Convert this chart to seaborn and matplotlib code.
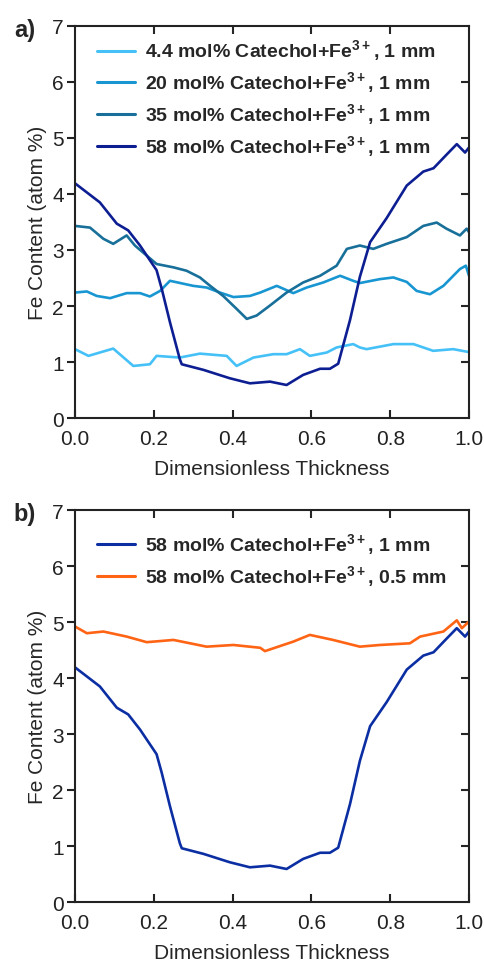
import matplotlib
matplotlib.use("Agg")
import matplotlib.pyplot as plt
import numpy as np
import pandas as pd
import seaborn as sns

# Fe content profiles (x = dimensionless thickness, y = atom %)
x_4p4 = [0.0, 0.034, 0.097, 0.148, 0.19, 0.207, 0.266, 0.317, 0.385, 0.41, 0.453,
         0.503, 0.537, 0.571, 0.596, 0.639, 0.664, 0.706, 0.723, 0.74, 0.808,
         0.859, 0.909, 0.96, 0.998]
y_4p4 = [1.23, 1.11, 1.24, 0.93, 0.96, 1.11, 1.08, 1.15, 1.11, 0.93, 1.08,
         1.14, 1.14, 1.23, 1.11, 1.17, 1.26, 1.32, 1.26, 1.23, 1.32,
         1.32, 1.20, 1.23, 1.18]

x_20 = [0.0, 0.03, 0.055, 0.089, 0.131, 0.165, 0.19, 0.216, 0.241, 0.30, 0.334,
        0.368, 0.402, 0.444, 0.47, 0.512, 0.554, 0.588, 0.63, 0.673, 0.706,
        0.723, 0.774, 0.808, 0.842, 0.867, 0.901, 0.935, 0.977, 0.992, 1.0]
y_20 = [2.24, 2.26, 2.18, 2.14, 2.23, 2.23, 2.17, 2.27, 2.45, 2.36, 2.33,
        2.24, 2.16, 2.18, 2.24, 2.36, 2.23, 2.33, 2.42, 2.54, 2.45,
        2.41, 2.48, 2.51, 2.43, 2.27, 2.21, 2.36, 2.66, 2.72, 2.54]

x_35 = [0.0, 0.038, 0.072, 0.097, 0.131, 0.152, 0.182, 0.207, 0.25, 0.283, 0.317,
        0.343, 0.376, 0.41, 0.436, 0.461, 0.495, 0.537, 0.579, 0.622, 0.664,
        0.69, 0.723, 0.757, 0.791, 0.842, 0.884, 0.918, 0.943, 0.977, 0.994, 1.0]
y_35 = [3.43, 3.40, 3.20, 3.11, 3.26, 3.08, 2.90, 2.75, 2.69, 2.63, 2.51,
        2.36, 2.18, 1.95, 1.77, 1.83, 2.01, 2.24, 2.42, 2.54, 2.72,
        3.02, 3.08, 3.02, 3.11, 3.23, 3.43, 3.49, 3.38, 3.26, 3.38, 3.32]

x_58 = [0.0, 0.063, 0.106, 0.135, 0.165, 0.207, 0.22, 0.241, 0.266, 0.271, 0.326,
        0.393, 0.444, 0.495, 0.537, 0.579, 0.622, 0.647, 0.668, 0.698, 0.723,
        0.749, 0.791, 0.842, 0.884, 0.91, 0.94, 0.969, 0.99, 1.0]
y_58 = [4.19, 3.85, 3.47, 3.35, 3.08, 2.64, 2.31, 1.71, 1.05, 0.96, 0.86,
        0.71, 0.62, 0.65, 0.59, 0.77, 0.88, 0.88, 0.97, 1.75, 2.52,
        3.14, 3.57, 4.15, 4.40, 4.46, 4.68, 4.89, 4.74, 4.83]

x_58_thin = [0.0, 0.03, 0.072, 0.131, 0.182, 0.25, 0.334, 0.402, 0.47, 0.482, 0.554,
             0.596, 0.655, 0.723, 0.774, 0.85, 0.876, 0.935, 0.969, 0.982, 1.0]
y_58_thin = [4.92, 4.80, 4.83, 4.74, 4.64, 4.68, 4.56, 4.59, 4.54, 4.48, 4.65,
             4.77, 4.68, 4.56, 4.59, 4.62, 4.74, 4.83, 5.03, 4.89, 5.01]

sup = r"$^{\mathbf{3+}}$"
labels_a = ["4.4 mol% Catechol+Fe" + sup + ", 1 mm",
            "20 mol% Catechol+Fe" + sup + ", 1 mm",
            "35 mol% Catechol+Fe" + sup + ", 1 mm",
            "58 mol% Catechol+Fe" + sup + ", 1 mm"]
labels_b = ["58 mol% Catechol+Fe" + sup + ", 1 mm",
            "58 mol% Catechol+Fe" + sup + ", 0.5 mm"]
colors_a = ["#45c1f7", "#1796d2", "#18709a", "#0d1e92"]
colors_b = ["#0b2ea3", "#ff6414"]

sns.set_theme(style="ticks")
plt.rcParams["font.family"] = ["Liberation Sans", "DejaVu Sans"]
plt.rcParams["mathtext.fontset"] = "custom"
plt.rcParams["mathtext.rm"] = "Liberation Sans"
plt.rcParams["mathtext.bf"] = "Liberation Sans:bold"


def style_axis(ax):
    ax.set_xlim(0, 1)
    ax.set_ylim(0, 7)
    ax.set_xticks(np.arange(0, 1.01, 0.2))
    ax.set_xticklabels([f"{v:.1f}" for v in np.arange(0, 1.01, 0.2)])
    ax.set_yticks(range(8))
    for s in ax.spines.values():
        s.set_linewidth(1.5)
        s.set_color("#222222")
        s.set_visible(True)
    ax.tick_params(axis="y", direction="out", length=6, width=1.5, labelsize=15,
                   pad=2, right=False, colors="#222222")
    ax.tick_params(axis="x", direction="in", length=6, width=1.5, labelsize=15,
                   pad=8, top=False, colors="#222222")
    top = ax.secondary_xaxis("top")
    top.set_xticks(np.arange(0.2, 0.81, 0.2))
    top.tick_params(direction="in", length=6, width=1.5, labeltop=False)
    right = ax.secondary_yaxis("right")
    right.set_yticks(range(1, 7))
    right.tick_params(direction="in", length=6, width=1.5, labelright=False)
    for sec in (top, right):
        for s in sec.spines.values():
            s.set_visible(False)
    ax.set_xlabel("Dimensionless Thickness", fontsize=15, labelpad=8)
    ax.set_ylabel("Fe Content (atom %)", fontsize=15, labelpad=4)


fig = plt.figure(figsize=(4.84, 9.62), dpi=100)
ax_a = fig.add_axes([0.155, 0.5644, 0.814, 0.4076])
ax_b = fig.add_axes([0.155, 0.0613, 0.814, 0.4075])

series_a = [(x_4p4, y_4p4), (x_20, y_20), (x_35, y_35), (x_58, y_58)]
for (xs, ys), c, lab in zip(series_a, colors_a, labels_a):
    df = pd.DataFrame({"x": xs, "y": ys})
    sns.lineplot(data=df, x="x", y="y", ax=ax_a, color=c, linewidth=1.9,
                 label=lab, estimator=None, sort=False)

series_b = [(x_58, y_58), (x_58_thin, y_58_thin)]
for (xs, ys), c, lab in zip(series_b, colors_b, labels_b):
    df = pd.DataFrame({"x": xs, "y": ys})
    sns.lineplot(data=df, x="x", y="y", ax=ax_b, color=c, linewidth=1.9,
                 label=lab, estimator=None, sort=False)

for ax, letter, top_y in ((ax_a, "a)", 0.99), (ax_b, "b)", 0.965)):
    style_axis(ax)
    leg = ax.legend(loc="upper left", bbox_to_anchor=(0.035, top_y), frameon=False,
                    prop={"weight": "bold", "size": 14}, handlelength=2.0,
                    handletextpad=0.5, labelspacing=0.32, borderaxespad=0)
    for line in leg.get_lines():
        line.set_linewidth(2.2)
    ax.text(-0.155, 0.99, letter, transform=ax.transAxes, fontsize=17,
            fontweight="bold", va="center", ha="left")

fig.savefig("out.png", dpi=100)
